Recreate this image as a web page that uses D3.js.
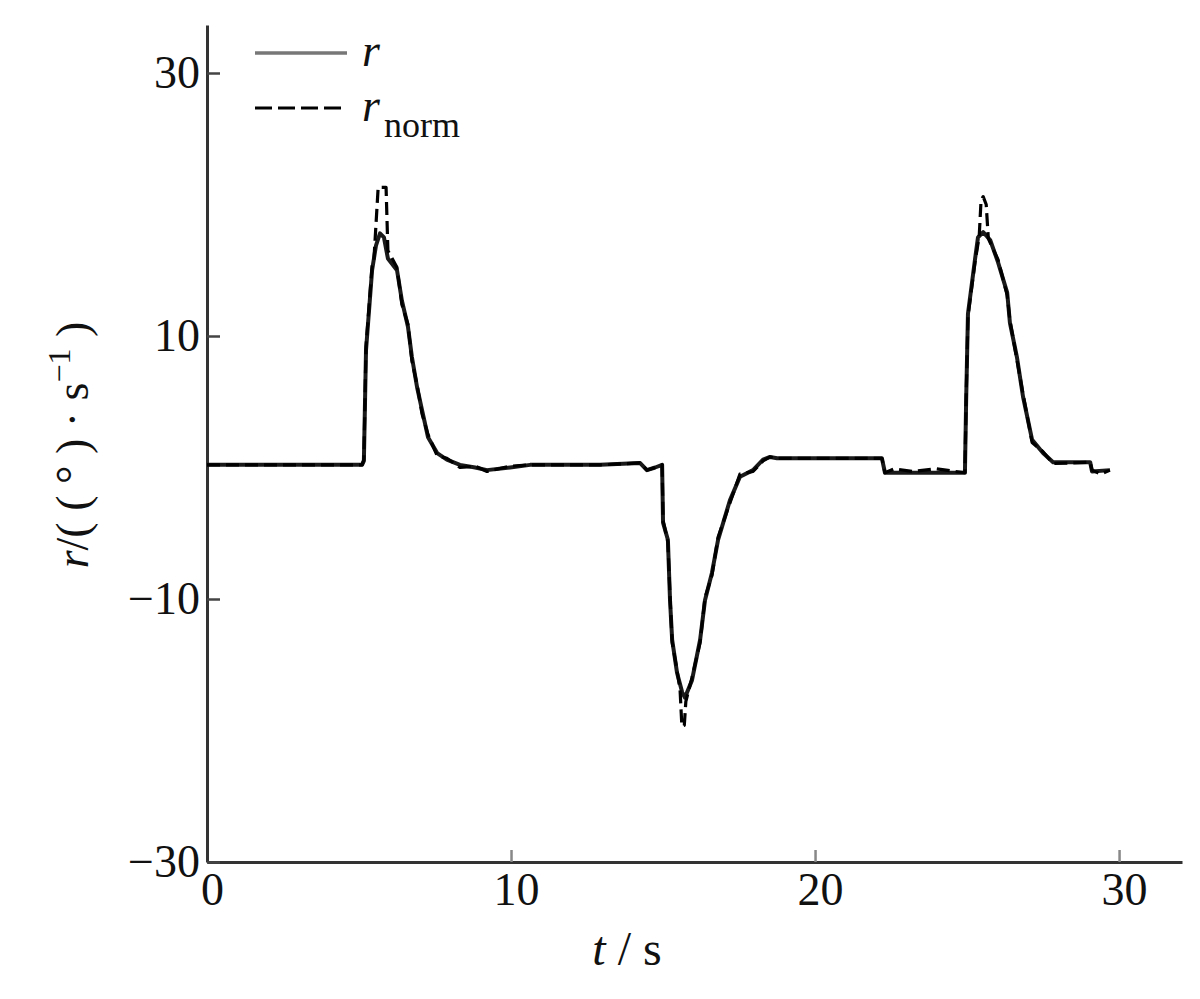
<!DOCTYPE html>
<html>
<head>
<meta charset="utf-8">
<script src="https://cdn.jsdelivr.net/npm/d3@7"></script>
<style>
  html, body { margin: 0; padding: 0; background: #fff; }
  svg { display: block; }
</style>
</head>
<body>
<svg id="chart" width="1200" height="999"></svg>
<script>
// ---- data ----
const xTicks = [0, 10, 20, 30];
const yTicks = [30, 10, -10, -30];

// r : [t (s), r (deg/s)]
const rSeries = [
  [0, 0.2], [5.10, 0.2], [5.16, 0.5], [5.23, 8.9], [5.43, 15.0], [5.56, 16.9],
  [5.69, 17.8], [5.82, 17.5], [5.95, 15.9], [6.25, 15.0], [6.41, 12.7], [6.61, 10.7],
  [6.74, 8.4], [6.91, 6.1], [7.07, 4.4], [7.27, 2.3], [7.57, 1.1], [7.89, 0.6],
  [8.32, 0.2], [8.82, 0.0], [9.21, -0.2], [9.97, 0.0], [10.63, 0.2], [12.93, 0.2],
  [14.24, 0.35], [14.47, -0.2], [14.74, 0.0], [14.97, 0.2], [15.00, -4.2], [15.16, -5.5],
  [15.23, -10.1], [15.30, -13.1], [15.46, -15.6], [15.63, -17.1], [15.72, -17.5],
  [15.95, -16.2], [16.22, -13.1], [16.38, -10.1], [16.61, -8.0], [16.81, -5.5],
  [17.20, -2.5], [17.53, -0.7], [17.96, -0.2], [18.29, 0.6], [18.52, 0.8], [18.75, 0.7],
  [22.20, 0.7], [22.30, -0.4], [24.93, -0.4], [24.97, 5.1], [25.03, 11.7], [25.26, 15.8],
  [25.36, 17.5], [25.53, 17.9], [25.76, 17.3], [26.02, 15.6], [26.32, 13.3], [26.41, 11.0],
  [26.64, 8.4], [26.84, 5.4], [27.14, 2.1], [27.50, 1.1], [27.83, 0.4], [29.05, 0.4],
  [29.11, -0.3], [29.70, -0.2]
];

// r_norm : [t (s), r_norm (deg/s)]
const rNormSeries = [
  [0, 0.2], [5.10, 0.2], [5.16, 0.6], [5.23, 9.2], [5.43, 15.3], [5.49, 15.8],
  [5.63, 21.3], [5.89, 21.3], [5.95, 16.5], [6.25, 15.2], [6.41, 12.4], [6.61, 10.9],
  [6.74, 8.1], [6.91, 6.3], [7.07, 4.1], [7.27, 2.5], [7.57, 0.9], [7.89, 0.7],
  [8.32, 0.0], [8.82, 0.1], [9.21, -0.3], [9.97, 0.1], [10.63, 0.2], [12.93, 0.2],
  [14.24, 0.35], [14.47, -0.2], [14.74, 0.0], [14.97, 0.2], [15.00, -4.0], [15.16, -5.7],
  [15.23, -9.8], [15.30, -13.3], [15.46, -15.4], [15.56, -16.9], [15.62, -19.7],
  [15.70, -19.6], [15.75, -17.8], [15.95, -16.0], [16.22, -13.3], [16.38, -9.9],
  [16.61, -8.2], [16.81, -5.3], [17.20, -2.7], [17.53, -0.5], [17.96, -0.3], [18.29, 0.5],
  [18.52, 0.8], [18.75, 0.7], [22.20, 0.7], [22.30, -0.4], [22.60, -0.1], [23.20, -0.3],
  [24.00, -0.1], [24.60, -0.3], [24.93, -0.4], [24.97, 5.3], [25.03, 11.5], [25.26, 15.6],
  [25.40, 17.6], [25.46, 20.3], [25.53, 20.6], [25.63, 20.0], [25.70, 17.4], [25.76, 17.1],
  [26.02, 15.8], [26.32, 13.1], [26.41, 11.2], [26.64, 8.2], [26.84, 5.6], [27.14, 1.9],
  [27.50, 1.2], [27.83, 0.3], [29.05, 0.4], [29.11, -0.2], [29.40, -0.5], [29.70, -0.2]
];

// ---- drawing ----
const svg = d3.select("#chart");
svg.append("rect").attr("width", 1200).attr("height", 999).attr("fill", "#fff");

const font = "'Liberation Serif', 'Times New Roman', serif";

const x = d3.scaleLinear().domain([0, 32.07]).range([207, 1182]);
const y = d3.scaleLinear().domain([-30, 33.65]).range([862, 25]);

// axes
const xAxis = d3.axisBottom(x).tickValues(xTicks).tickSizeInner(-12).tickSizeOuter(0).tickPadding(10);
const yAxis = d3.axisLeft(y).tickValues(yTicks).tickSizeInner(-13).tickSizeOuter(0).tickPadding(7);

const gx = svg.append("g").attr("transform", "translate(0,862)").call(xAxis);
const gy = svg.append("g").attr("transform", "translate(207,0)").call(yAxis);

[gx, gy].forEach(g => {
  g.select(".domain").attr("stroke", "#333").attr("stroke-width", 3);
  g.selectAll(".tick line").attr("stroke", "#444").attr("stroke-width", 2.5);
  g.selectAll(".tick text").attr("font-family", font).attr("font-size", 46).attr("fill", "#111");
});
gx.selectAll(".tick text").attr("dx", 5);
gx.selectAll(".tick line").attr("stroke", "#888");

// lines
const line = d3.line().x(d => x(d[0])).y(d => y(d[1]));

svg.append("path").datum(rSeries)
  .attr("d", line).attr("fill", "none")
  .attr("stroke", "#1a1a1a").attr("stroke-width", 4).attr("stroke-linejoin", "round");

svg.append("path").datum(rNormSeries)
  .attr("d", line).attr("fill", "none")
  .attr("stroke", "#000").attr("stroke-width", 3.2).attr("stroke-dasharray", "13,6")
  .attr("stroke-linejoin", "round");

// legend
const lg = svg.append("g");
lg.append("line").attr("x1", 255).attr("x2", 347).attr("y1", 53).attr("y2", 53)
  .attr("stroke", "#777").attr("stroke-width", 3.5);
lg.append("text").attr("x", 362).attr("y", 66).attr("font-family", font)
  .attr("font-size", 46).attr("font-style", "italic").attr("fill", "#111").text("r");
lg.append("line").attr("x1", 255).attr("x2", 347).attr("y1", 108).attr("y2", 108)
  .attr("stroke", "#000").attr("stroke-width", 3).attr("stroke-dasharray", "17,6");
const t2 = lg.append("text").attr("x", 362).attr("y", 121).attr("font-family", font)
  .attr("font-size", 46).attr("fill", "#111");
t2.append("tspan").attr("font-style", "italic").text("r");
t2.append("tspan").attr("font-size", 36).attr("dy", 16).attr("dx", 4).text("norm");

// x axis title
const xt = svg.append("text").attr("x", 627).attr("y", 965).attr("text-anchor", "middle")
  .attr("font-family", font).attr("font-size", 48).attr("fill", "#111");
xt.append("tspan").attr("font-style", "italic").text("t");
xt.append("tspan").text(" / s");

// y axis title
const yt = svg.append("text")
  .attr("transform", "translate(88,445) rotate(-90)")
  .attr("text-anchor", "middle")
  .attr("font-family", font).attr("font-size", 46).attr("fill", "#111");
yt.append("tspan").attr("font-style", "italic").text("r");
yt.append("tspan").text("/( ( ° ) · s");
yt.append("tspan").attr("font-size", 32).attr("dy", -18).text("−1");
yt.append("tspan").attr("dy", 18).text(" )");
</script>
</body>
</html>
